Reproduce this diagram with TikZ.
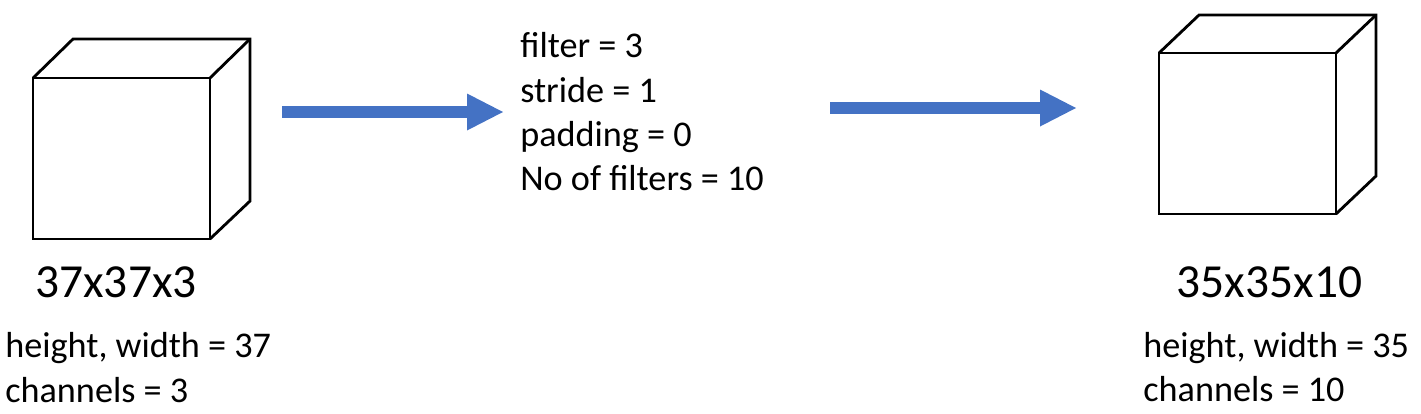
\documentclass[tikz,border=0pt]{standalone}
\usepackage{fontspec}
\setmainfont{Carlito}
\usetikzlibrary{arrows.meta}
\definecolor{officeblue}{RGB}{68,114,196}
\tikzstyle{cubeface} = [rectangle, draw, line width=1.6pt, minimum width=3.54cm, minimum height=3.22cm, inner sep=0pt, outer sep=0pt]
\tikzstyle{cubeedge} = [line width=1.6pt, line join=miter]
\tikzstyle{dims} = [font=\fontsize{27}{32}\selectfont, anchor=base, inner sep=0pt]
\tikzstyle{info} = [font=\fontsize{20.6}{24}\selectfont, anchor=base west, inner sep=0pt]
\tikzstyle{arrow} = [line width=0.24cm, officeblue, -{Triangle[length=0.72cm, width=0.74cm, line width=0pt]}]

\begin{document}
\begin{tikzpicture}[x=0.02cm, y=-0.02cm]
            \useasboundingbox (0,0) rectangle (1421,413);
            % input volume
            \node [cubeface] at (121.5,158.5) (front1) {};
            \draw [cubeedge] (front1.north west) -- ++(40,-39) -- ++(177,0) -- ++(0,162) -- (front1.south east);
            \draw [cubeedge] (front1.north east) -- ++(40,-39);
            \node [dims] at (116,297) (dims1) {37x37x3};
            \node [info] at (5,357) (hw1) {height, width = 37};
            \node [info] at (5,402) (ch1) {channels = 3};

            % convolution settings
            \node [info] at (520,57) (filt) {filter = 3};
            \node [info] at (520,102) (strd) {stride = 1};
            \node [info] at (520,146) (pad) {padding = 0};
            \node [info] at (520,190) (nfilt) {No of filters = 10};

            % output volume
            \node [cubeface] at (1247.5,133.5) (front2) {};
            \draw [cubeedge] (front2.north west) -- ++(40,-38) -- ++(177,0) -- ++(0,161) -- (front2.south east);
            \draw [cubeedge] (front2.north east) -- ++(40,-38);
            \node [dims] at (1269.5,297) (dims2) {35x35x10};
            \node [info] at (1143,357) (hw2) {height, width = 35};
            \node [info] at (1143,401) (ch2) {channels = 10};

            \coordinate (a1s) at (282,112);
            \coordinate (a1e) at (503,112);
            \coordinate (a2s) at (830,108);
            \coordinate (a2e) at (1076,108);
            \draw [arrow] (a1s) -- (a1e);
            \draw [arrow] (a2s) -- (a2e);
\end{tikzpicture}
\end{document}
